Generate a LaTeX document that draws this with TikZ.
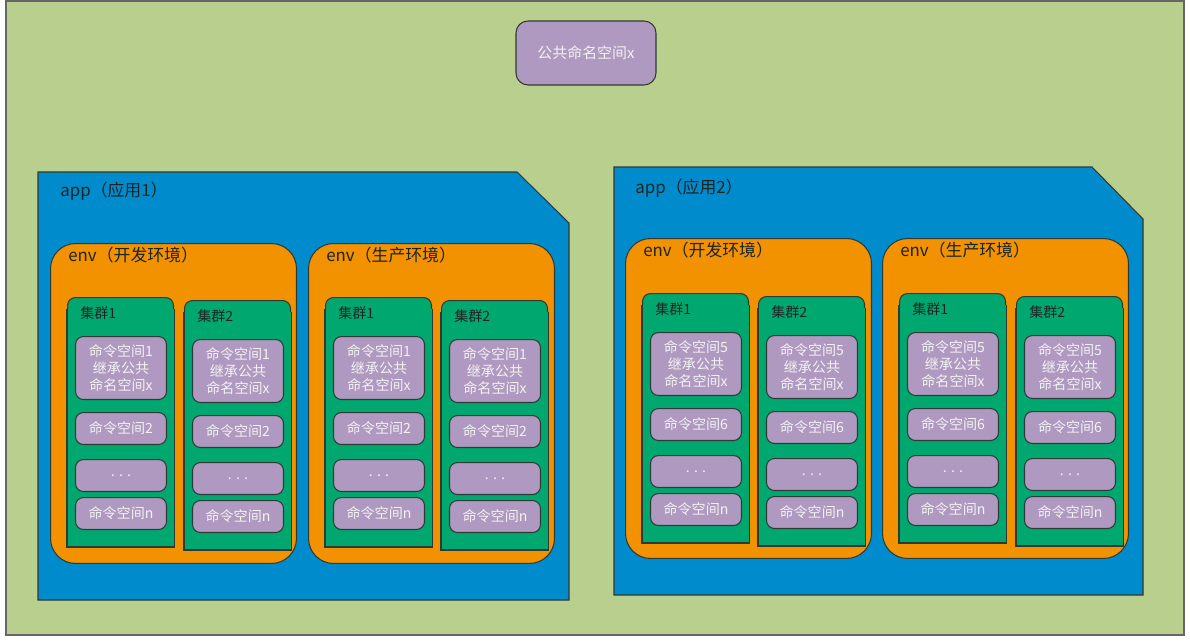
\documentclass[tikz,border=0pt]{standalone}
\usepackage{fontspec}
\setmainfont{Noto Sans CJK SC}
\usepackage{tikz}
\usetikzlibrary{positioning, calc}
\usepackage{xcolor}
\definecolor{bggreen}{HTML}{B8CF8D}
\definecolor{appblue}{HTML}{008CCC}
\definecolor{envorange}{HTML}{F39200}
\definecolor{clgreen}{HTML}{00A870}
\definecolor{nspurple}{HTML}{B099C0}
\definecolor{edgegray}{HTML}{2E3A36}
\definecolor{labeldark}{HTML}{1C2424}

\begin{document}
\begin{tikzpicture}[
    x=0.02cm, y=-0.02cm,
    every node/.style={font=\fontsize{8}{9.6}\selectfont},
    edge/.style={draw=edgegray, line width=0.6pt},
    app/.style={edge, fill=appblue},
    env/.style={edge, fill=envorange, rounded corners=5mm, anchor=north west,
                minimum width=49.2mm, minimum height=64mm, inner sep=0pt},
    cluster/.style={edge, fill=clgreen, rounded corners=1.6mm, anchor=north west,
                    minimum width=21.2mm, minimum height=49.8mm, inner sep=0pt},
    ns/.style={edge, fill=nspurple, rounded corners=1.6mm, anchor=north,
               minimum width=18.2mm, minimum height=6.4mm, inner sep=1pt,
               align=center, text=white!95!black},
    nsbig/.style={ns, minimum height=12.6mm},
    title/.style={anchor=west, inner sep=0pt, text=labeldark,
                  font=\fontsize{9.6}{11}\selectfont},
    cltitle/.style={anchor=west, inner sep=0pt, text=labeldark}
]
    \useasboundingbox (0,0) rectangle (1190,642);
    \fill[white] (0,0) rectangle (1190,642);
    \draw[draw=black!60, line width=0.8pt, fill=bggreen] (6,1) rectangle (1184,635);

    % Shared namespace
    \node[ns, anchor=center, minimum width=28mm, minimum height=12.8mm,
          rounded corners=2.4mm, font=\fontsize{8.5}{10}\selectfont] (pub) at (586,53) {公共命名空间x};

    % App 1
    \draw[app] (38,172) -- (517,172) -- (569,223) -- (569,600) -- (38,600) -- cycle;
    \node[title] (a1) at (60,191) {app（应用1）};
    \node[env] (a1e1) at (50,243) {};
    \node[title] (a1e1t) at (68,255) {env（开发环境）};
    \node[env] (a1e2) at (308,243) {};
    \node[title] (a1e2t) at (326,255) {env（生产环境）};

    % App 2
    \draw[app] (614,167) -- (1092,167) -- (1143,219) -- (1143,595) -- (614,595) -- cycle;
    \node[title] (a2) at (635,188) {app（应用2）};
    \node[env] (a2e1) at (625,238) {};
    \node[title] (a2e1t) at (643,250) {env（开发环境）};
    \node[env] (a2e2) at (882,238) {};
    \node[title] (a2e2t) at (900,250) {env（生产环境）};

    % Clusters
    \node[cluster] (a1e1c1) at (67,297) {};
    \node[cluster] (a1e1c2) at (184,300) {};
    \node[cluster] (a1e2c1) at (325,297) {};
    \node[cluster] (a1e2c2) at (441,300) {};
    \node[cluster] (a2e1c1) at (642,293) {};
    \node[cluster] (a2e1c2) at (758,296) {};
    \node[cluster] (a2e2c1) at (899,293) {};
    \node[cluster] (a2e2c2) at (1016,296) {};

    % square bottom corners of the clusters
    \foreach \c in {a1e1c1, a1e1c2, a1e2c1, a1e2c2, a2e1c1, a2e1c2, a2e2c1, a2e2c2} {
        \fill[clgreen] ($(\c.north west)+(0,12)$) rectangle (\c.south east);
        \draw[edge] ($(\c.north west)+(0,12)$) |- (\c.south east) |- ($(\c.north east)+(0,12)$);
    }

    % App 1 / dev
    \node[cltitle] (a1e1c1t) at (80,313) {集群1};
    \node[nsbig] (a1e1c1n1) at (121,336) {命令空间1\\继承公共\\命名空间x};
    \node[ns] (a1e1c1n2) at (121,412) {命令空间2};
    \node[ns] (a1e1c1n3) at (121,459) {. . .};
    \node[ns] (a1e1c1n4) at (121,497) {命令空间n};
    \node[cltitle] (a1e1c2t) at (197,316) {集群2};
    \node[nsbig] (a1e1c2n1) at (238,339) {命令空间1\\继承公共\\命名空间x};
    \node[ns] (a1e1c2n2) at (238,415) {命令空间2};
    \node[ns] (a1e1c2n3) at (238,462) {. . .};
    \node[ns] (a1e1c2n4) at (238,500) {命令空间n};

    % App 1 / prod
    \node[cltitle] (a1e2c1t) at (338,313) {集群1};
    \node[nsbig] (a1e2c1n1) at (379,336) {命令空间1\\继承公共\\命名空间x};
    \node[ns] (a1e2c1n2) at (379,412) {命令空间2};
    \node[ns] (a1e2c1n3) at (379,459) {. . .};
    \node[ns] (a1e2c1n4) at (379,497) {命令空间n};
    \node[cltitle] (a1e2c2t) at (454,316) {集群2};
    \node[nsbig] (a1e2c2n1) at (495,339) {命令空间1\\继承公共\\命名空间x};
    \node[ns] (a1e2c2n2) at (495,415) {命令空间2};
    \node[ns] (a1e2c2n3) at (495,462) {. . .};
    \node[ns] (a1e2c2n4) at (495,500) {命令空间n};

    % App 2 / dev
    \node[cltitle] (a2e1c1t) at (655,309) {集群1};
    \node[nsbig] (a2e1c1n1) at (696,332) {命令空间5\\继承公共\\命名空间x};
    \node[ns] (a2e1c1n2) at (696,408) {命令空间6};
    \node[ns] (a2e1c1n3) at (696,455) {. . .};
    \node[ns] (a2e1c1n4) at (696,493) {命令空间n};
    \node[cltitle] (a2e1c2t) at (771,312) {集群2};
    \node[nsbig] (a2e1c2n1) at (812,335) {命令空间5\\继承公共\\命名空间x};
    \node[ns] (a2e1c2n2) at (812,411) {命令空间6};
    \node[ns] (a2e1c2n3) at (812,458) {. . .};
    \node[ns] (a2e1c2n4) at (812,496) {命令空间n};

    % App 2 / prod
    \node[cltitle] (a2e2c1t) at (912,309) {集群1};
    \node[nsbig] (a2e2c1n1) at (953,332) {命令空间5\\继承公共\\命名空间x};
    \node[ns] (a2e2c1n2) at (953,408) {命令空间6};
    \node[ns] (a2e2c1n3) at (953,455) {. . .};
    \node[ns] (a2e2c1n4) at (953,493) {命令空间n};
    \node[cltitle] (a2e2c2t) at (1029,312) {集群2};
    \node[nsbig] (a2e2c2n1) at (1070,335) {命令空间5\\继承公共\\命名空间x};
    \node[ns] (a2e2c2n2) at (1070,411) {命令空间6};
    \node[ns] (a2e2c2n3) at (1070,458) {. . .};
    \node[ns] (a2e2c2n4) at (1070,496) {命令空间n};
\end{tikzpicture}
\end{document}
